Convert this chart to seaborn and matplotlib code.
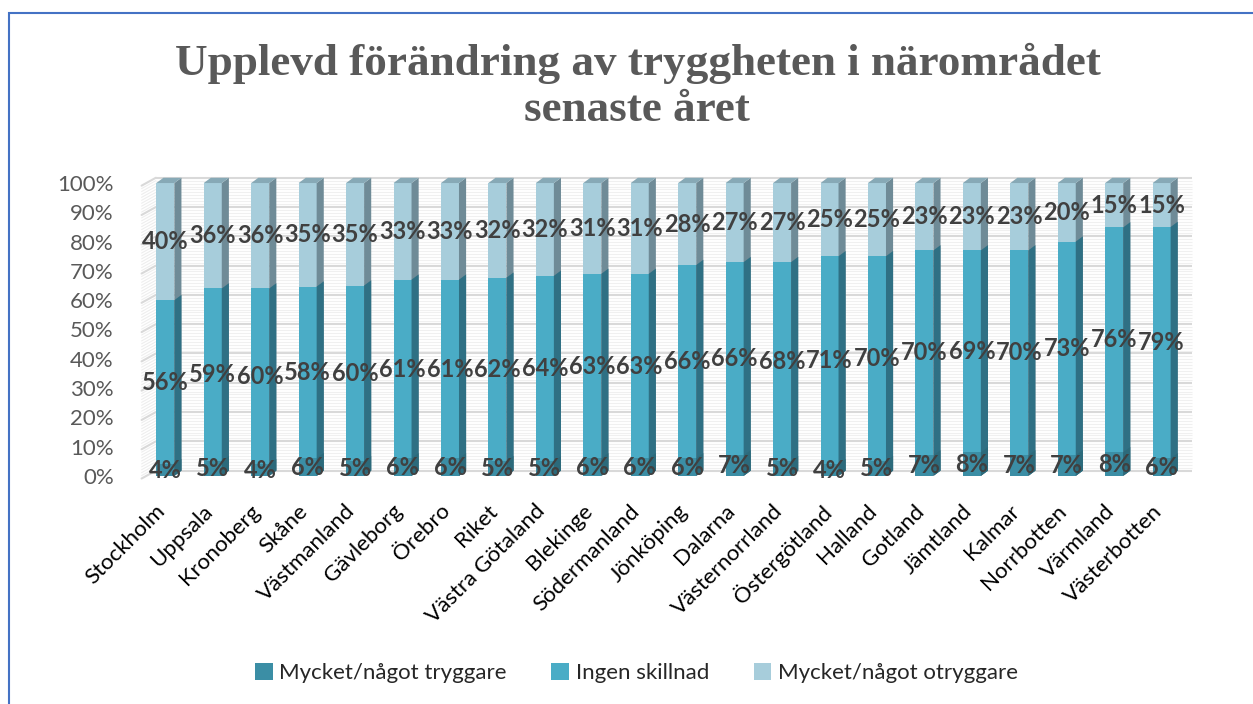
import numpy as np
import pandas as pd
import matplotlib.pyplot as plt
import matplotlib.transforms as mtransforms
from matplotlib.patches import Polygon, Rectangle
from matplotlib.ticker import MultipleLocator, PercentFormatter
import seaborn as sns

#### Data (percent)
regions = ['Stockholm', 'Uppsala', 'Kronoberg', 'Skåne', 'Västmanland', 'Gävleborg',
           'Örebro', 'Riket', 'Västra Götaland', 'Blekinge', 'Södermanland', 'Jönköping',
           'Dalarna', 'Västernorrland', 'Östergötland', 'Halland', 'Gotland', 'Jämtland',
           'Kalmar', 'Norrbotten', 'Värmland', 'Västerbotten']
tryggare = [4, 5, 4, 6, 5, 6, 6, 5, 5, 6, 6, 6, 7, 5, 4, 5, 7, 8, 7, 7, 8, 6]
ingen = [56, 59, 60, 58, 60, 61, 61, 62, 64, 63, 63, 66, 66, 68, 71, 70, 70, 69, 70, 73, 76, 79]
otryggare = [40, 36, 36, 35, 35, 33, 33, 32, 32, 31, 31, 28, 27, 27, 25, 25, 23, 23, 23, 20, 15, 15]
series = ['Mycket/något tryggare', 'Ingen skillnad', 'Mycket/något otryggare']

colors = ['#3B8EA5', '#4AACC6', '#A7CDDB']
side_colors = ['#2C6A7B', '#2F7084', '#6F8B97']
top_color = '#87A9B6'

#### 100% stacked -> normalize each region
df = pd.DataFrame({'region': regions, 'a': tryggare, 'b': ingen, 'c': otryggare})
tot = df[['a', 'b', 'c']].sum(axis=1)
df['cum1'] = df['a'] / tot * 100
df['cum2'] = (df['a'] + df['b']) / tot * 100
df['cum3'] = (df['a'] + df['b'] + df['c']) / tot * 100

sns.set_theme(style='white')
plt.rcParams['font.family'] = ['Lato', 'DejaVu Sans']

fig = plt.figure(figsize=(12.53, 7.04), dpi=100)
ax = fig.add_axes([0.113, 0.324, 0.833, 0.416])

bw = 0.38
dx, dy = 0.15, 1.8   # fake 3D depth in data units
n = len(df)

#### back wall grid (shifted by the depth) + left wall diagonals
for y in range(0, 101):
    major = (y % 10 == 0)
    ax.hlines(y + dy, -0.5 + dx * 2, n - 0.5 + dx, color='#D9D9D9' if major else '#F0F0F0',
              lw=1.5 if major else 0.8, zorder=0, clip_on=False)
    ax.plot([-0.5, -0.5 + dx * 2], [y - dy * 0.5, y + dy], color='#D9D9D9' if major else '#EEEEEE',
            lw=1.5 if major else 0.8, zorder=0, clip_on=False)

layers = [('cum3', 2), ('cum2', 1), ('cum1', 0)]
for col, i in layers:
    n_before = len(ax.patches)
    sns.barplot(data=df, x='region', y=col, color=colors[i], width=bw, saturation=1,
                edgecolor='none', linewidth=0, ax=ax, zorder=3)
    for p in ax.patches[n_before:]:
        x0, x1 = p.get_x(), p.get_x() + p.get_width()
        h = p.get_height()
        side = Polygon([(x1, 0), (x1 + dx, dy), (x1 + dx, h + dy), (x1, h)],
                       closed=True, fc=side_colors[i], ec='none', zorder=3, clip_on=False)
        ax.add_patch(side)
        if i == 2:
            top = Polygon([(x0, h), (x0 + dx, h + dy), (x1 + dx, h + dy), (x1, h)],
                          closed=True, fc=top_color, ec='none', zorder=3, clip_on=False)
            ax.add_patch(top)

#### data labels, centered in each segment
bottoms = [np.zeros(n), df['cum1'].values, df['cum2'].values]
tops = [df['cum1'].values, df['cum2'].values, df['cum3'].values]
vals = [tryggare, ingen, otryggare]
for k in range(3):
    for j in range(n):
        ax.text(j, (bottoms[k][j] + tops[k][j]) / 2, f'{vals[k][j]}%',
                ha='center', va='center', fontsize=17, fontweight='bold',
                color='#404040', zorder=5)

ax.set_xlim(-0.5, n - 0.5)
ax.set_ylim(0, 100)
ax.yaxis.set_major_locator(MultipleLocator(10))
ax.yaxis.set_major_formatter(PercentFormatter(decimals=0))
ax.grid(False)
for s in ax.spines.values():
    s.set_visible(False)
ax.set_xlabel('')
ax.set_ylabel('')
ax.tick_params(axis='y', which='both', length=0, pad=20, labelsize=16, labelcolor='#595959')
ax.tick_params(axis='x', length=0, pad=18, labelsize=16, labelcolor='black')
shift = mtransforms.ScaledTranslation(-10 / 100, 0, fig.dpi_scale_trans)
for lab in ax.get_xticklabels():
    lab.set_rotation(45)
    lab.set_ha('right')
    lab.set_va('top')
    lab.set_rotation_mode('anchor')
    lab.set_transform(lab.get_transform() + shift)

fig.text(0.509, 1 - 75 / 704, 'Upplevd förändring av tryggheten i närområdet',
         ha='center', va='baseline', fontsize=32.5, fontweight='bold', color='#595959',
         family='Liberation Serif')
fig.text(0.508, 1 - 121 / 704, 'senaste året',
         ha='center', va='baseline', fontsize=32.5, fontweight='bold', color='#595959',
         family='Liberation Serif')

handles = [Rectangle((0, 0), 1, 1, fc=c, ec='none') for c in colors]
fig.legend(handles, series, loc='center', bbox_to_anchor=(0.508, 0.044), ncol=3,
           frameon=False, fontsize=16, handlelength=0.8, handleheight=0.8,
           handletextpad=0.3, columnspacing=2.0)

fig.patches.append(Rectangle((0.007, -0.05), 1.1, 0.05 + 1 - 13 / 704, transform=fig.transFigure,
                             fill=False, ec='#4472C4', lw=1.5, figure=fig))

plt.savefig('out.png', dpi=100)
